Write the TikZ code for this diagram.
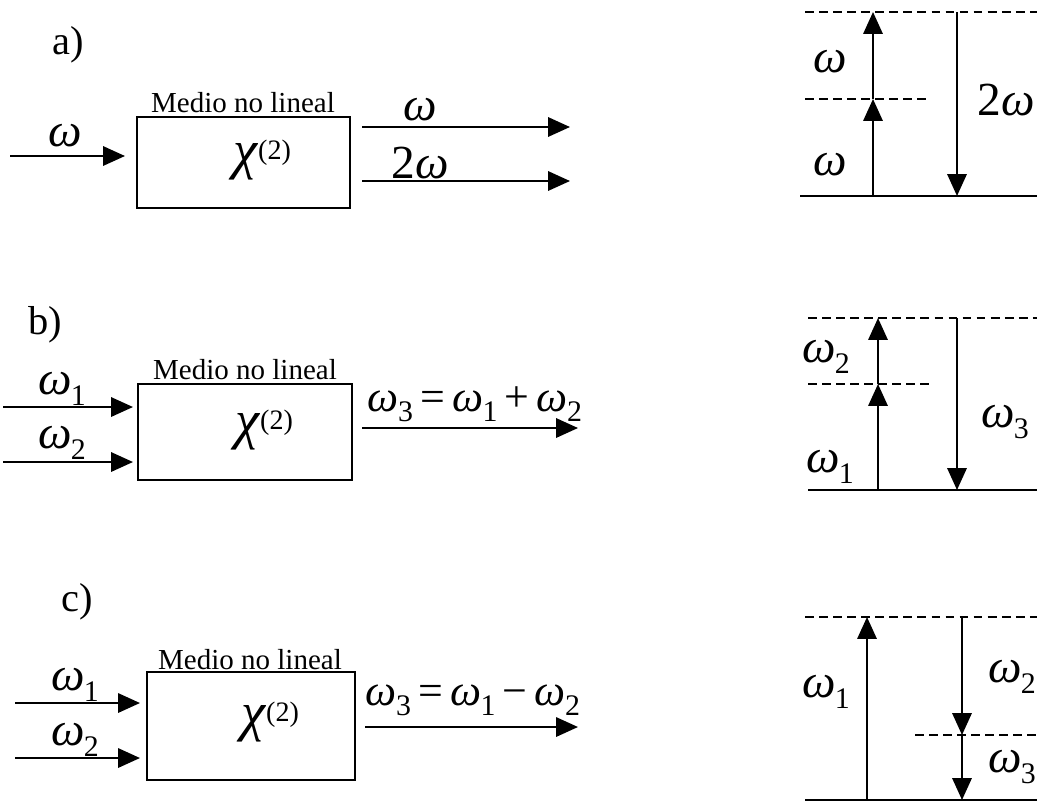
\documentclass[tikz,border=0pt]{standalone}
\usepackage{fontspec}
\setmainfont{Liberation Serif}
\usetikzlibrary{arrows.meta}

\newcommand{\om}{\textit{ω}}
\newcommand{\oms}[1]{\textit{ω}\kern-0.5pt\raisebox{-0.5ex}{\fontsize{17}{17}\selectfont #1}}
\newcommand{\chidos}{{\fontsize{31}{31}\selectfont\textit{χ}}\raisebox{1.2ex}{\fontsize{16}{16}\selectfont(2)}}

\tikzset{
  flecha/.style={line width=1.3pt, -{Triangle[length=12.5pt,width=11pt]}},
  medio/.style={draw, line width=1.3pt, inner sep=0pt},
  nivel/.style={line width=1.3pt},
  virtual/.style={line width=1.1pt, dash pattern=on 5pt off 3pt},
  etiq/.style={inner sep=0pt, font=\fontsize{27}{29}\selectfont},
  ecuacion/.style={inner sep=0pt, font=\fontsize{25}{27}\selectfont},
  titulo/.style={inner sep=0pt, font=\fontsize{16.5}{18}\selectfont},
  letra/.style={inner sep=0pt, font=\fontsize{23}{25}\selectfont},
}

\begin{document}
\begin{tikzpicture}[x=0.02cm, y=-0.02cm]
  \useasboundingbox (0,0) rectangle (1037,802);

  % ---------- a) generacion de segundo armonico
  \node[letra] (letraA) at (68,45) {a)};
  \node[titulo] (tituloA) at (243,103) {Medio no lineal};
  \node[medio, minimum width=4.26cm, minimum height=1.82cm] (medioA) at (243.5,162.5) {};
  \node (chiA) at (262,160) {\chidos};
  \coordinate (inA1) at (10,156);   \coordinate (inA2) at (125,156);
  \coordinate (outA1) at (362,127); \coordinate (outA2) at (570,127);
  \coordinate (outB1) at (362,181); \coordinate (outB2) at (570,181);
  \draw[flecha] (inA1) -- (inA2);
  \draw[flecha] (outA1) -- (outA2);
  \draw[flecha] (outB1) -- (outB2);
  \node[etiq] (wA) at (65,136) {\om};
  \node[etiq] (wA1) at (420,110) {\om};
  \node[etiq] (wA2) at (420,163) {2\om};

  % niveles de energia a)
  \coordinate (a0i) at (800,196); \coordinate (a0d) at (1037,196);
  \coordinate (a1i) at (805,99);  \coordinate (a1d) at (930,99);
  \coordinate (a2i) at (805,12);  \coordinate (a2d) at (1037,12);
  \draw[nivel] (a0i) -- (a0d);
  \draw[virtual] (a1i) -- (a1d);
  \draw[virtual] (a2i) -- (a2d);
  \coordinate (pA0) at (873,196); \coordinate (pA1) at (873,99); \coordinate (pA2) at (873,12);
  \coordinate (qA0) at (957,12);  \coordinate (qA1) at (957,196);
  \draw[flecha] (pA0) -- (pA1);
  \draw[flecha] (pA1) -- (pA2);
  \draw[flecha] (qA0) -- (qA1);
  \node[etiq] (eA1) at (830,62) {\om};
  \node[etiq] (eA2) at (830,165) {\om};
  \node[etiq] (eA3) at (1006,100) {2\om};

  % ---------- b) suma de frecuencias
  \node[letra] (letraB) at (45,325) {b)};
  \node[titulo] (tituloB) at (245,370) {Medio no lineal};
  \node[medio, minimum width=4.28cm, minimum height=1.92cm] (medioB) at (245,432) {};
  \node (chiB) at (264,430) {\chidos};
  \coordinate (inB1) at (3,407);   \coordinate (inB2) at (133,407);
  \coordinate (inC1) at (3,462);   \coordinate (inC2) at (133,462);
  \coordinate (outC1) at (362,428); \coordinate (outC2) at (578,428);
  \draw[flecha] (inB1) -- (inB2);
  \draw[flecha] (inC1) -- (inC2);
  \draw[flecha] (outC1) -- (outC2);
  \node[etiq] (wB1) at (62,389) {\oms{1}};
  \node[etiq] (wB2) at (62,443) {\oms{2}};
  \node[ecuacion] (wB3) at (475,404) {\oms{3}\,=\,\oms{1}\,+\,\oms{2}};

  % niveles de energia b)
  \coordinate (b0i) at (808,490); \coordinate (b0d) at (1037,490);
  \coordinate (b1i) at (808,384); \coordinate (b1d) at (930,384);
  \coordinate (b2i) at (808,318); \coordinate (b2d) at (1037,318);
  \draw[nivel] (b0i) -- (b0d);
  \draw[virtual] (b1i) -- (b1d);
  \draw[virtual] (b2i) -- (b2d);
  \coordinate (pB0) at (878,490); \coordinate (pB1) at (878,384); \coordinate (pB2) at (878,318);
  \coordinate (qB0) at (957,318); \coordinate (qB1) at (957,490);
  \draw[flecha] (pB0) -- (pB1);
  \draw[flecha] (pB1) -- (pB2);
  \draw[flecha] (qB0) -- (qB1);
  \node[etiq] (eB1) at (826,357) {\oms{2}};
  \node[etiq] (eB2) at (830,467) {\oms{1}};
  \node[etiq] (eB3) at (1005,422) {\oms{3}};

  % ---------- c) diferencia de frecuencias
  \node[letra] (letraC) at (77,602) {c)};
  \node[titulo] (tituloC) at (250,660) {Medio no lineal};
  \node[medio, minimum width=4.16cm, minimum height=2.16cm] (medioC) at (251,726) {};
  \node (chiC) at (270,722) {\chidos};
  \coordinate (inD1) at (15,703);   \coordinate (inD2) at (140,703);
  \coordinate (inE1) at (15,758);   \coordinate (inE2) at (140,758);
  \coordinate (outD1) at (365,727); \coordinate (outD2) at (578,727);
  \draw[flecha] (inD1) -- (inD2);
  \draw[flecha] (inE1) -- (inE2);
  \draw[flecha] (outD1) -- (outD2);
  \node[etiq] (wC1) at (75,685) {\oms{1}};
  \node[etiq] (wC2) at (75,740) {\oms{2}};
  \node[ecuacion] (wC3) at (473,700) {\oms{3}\,=\,\oms{1}\,−\,\oms{2}};

  % niveles de energia c)
  \coordinate (c0i) at (805,800); \coordinate (c0d) at (1037,800);
  \coordinate (c1i) at (915,735); \coordinate (c1d) at (1037,735);
  \coordinate (c2i) at (805,617); \coordinate (c2d) at (1037,617);
  \draw[nivel] (c0i) -- (c0d);
  \draw[virtual] (c1i) -- (c1d);
  \draw[virtual] (c2i) -- (c2d);
  \coordinate (pC0) at (867,800); \coordinate (pC1) at (867,617);
  \coordinate (qC0) at (962,617); \coordinate (qC1) at (962,735); \coordinate (qC2) at (962,800);
  \draw[flecha] (pC0) -- (pC1);
  \draw[flecha] (qC0) -- (qC1);
  \draw[flecha] (qC1) -- (qC2);
  \node[etiq] (eC1) at (826,692) {\oms{1}};
  \node[etiq] (eC2) at (1012,677) {\oms{2}};
  \node[etiq] (eC3) at (1012,767) {\oms{3}};
\end{tikzpicture}
\end{document}
